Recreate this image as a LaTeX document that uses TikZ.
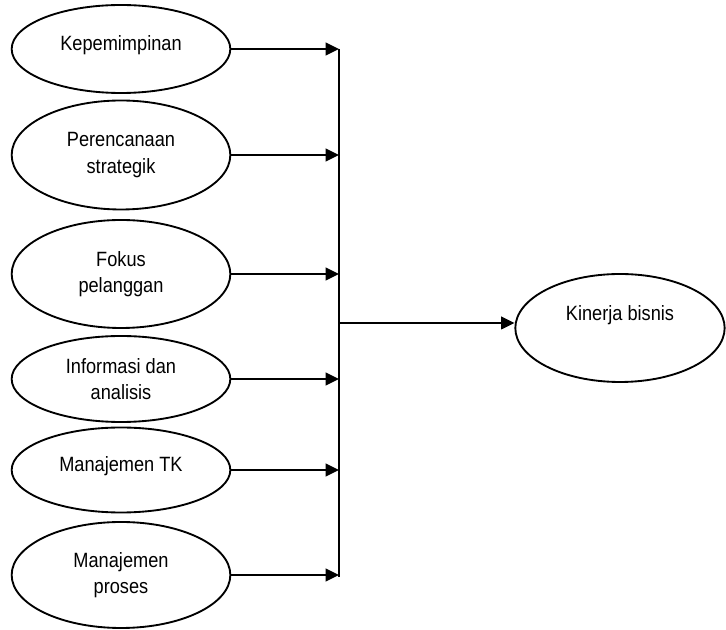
\documentclass[tikz,border=0pt]{standalone}
\usepackage{fontspec}
\setmainfont{Liberation Sans}[FakeStretch=0.88]
\usepackage{tikz}
\usetikzlibrary{shapes.geometric}
\usetikzlibrary{arrows.meta}
\usetikzlibrary{calc}
\tikzset{
  model/.style={
    x=0.75pt, y=-0.75pt,
    factor/.style={ellipse, draw, line width=1.4pt, inner sep=0pt,
      minimum width=164pt, align=center,
      font={\fontsize{15.5}{20}\selectfont}},
    lift/.style={text depth=##1},
    link/.style={line width=1.4pt, -{Triangle[length=10pt,width=9.5pt]}},
    bar/.style={line width=1.4pt},
  }
}

\begin{document}
\begin{tikzpicture}[model]
    \useasboundingbox (0,0) rectangle (726,630);

    % faktor kualitas
    \node[factor, minimum height=66pt, lift=9pt] (kep) at (121,49) {Kepemimpinan};
    \node[factor, minimum height=81.75pt] (ren) at (121,155) {Perencanaan\\strategik};
    \node[factor, minimum height=81pt] (fok) at (121,274) {Fokus\\pelanggan};
    \node[factor, minimum height=64.5pt] (inf) at (121,379) {Informasi dan\\analisis};
    \node[factor, minimum height=63.75pt, lift=9pt] (mtk) at (121,470) {Manajemen TK};
    \node[factor, minimum height=79.5pt] (pro) at (121,575) {Manajemen\\proses};

    % hasil
    \node[factor, minimum width=157pt, minimum height=81pt, lift=22pt] (kin) at (620,328) {Kinerja bisnis};

    \coordinate (bartop) at (339,49);
    \coordinate (barbot) at (339,577);
    \coordinate (barmid) at (339,323);

    \draw[bar] (bartop) -- (barbot);
    \foreach \n in {kep,ren,fok,inf,mtk,pro}
        \draw[link] (\n.east) -- (\n.east -| bartop);
    \draw[link] (barmid) -- (barmid -| kin.west);
\end{tikzpicture}
\end{document}
